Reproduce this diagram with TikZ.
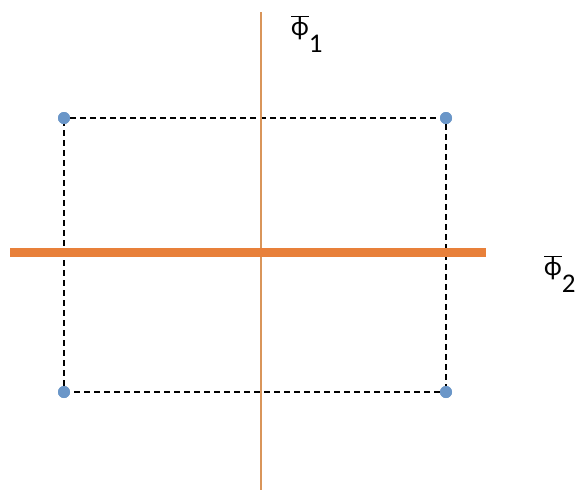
\documentclass[tikz,border=0pt]{standalone}
\usepackage{fontspec}
\setmainfont{Carlito}
\usepackage{xcolor}
\usetikzlibrary{positioning}
\definecolor{axisorange}{HTML}{E8803A}
\definecolor{thinorange}{HTML}{D9955A}
\definecolor{dotblue}{HTML}{6A96C8}

\newcommand{\barphi}{$\overline{\mbox{ϕ}}$}

\tikzset{
  corner/.style={circle, fill=dotblue, inner sep=0pt, minimum size=12pt},
  frame/.style={dashed, dash pattern=on 6pt off 4pt, line width=1.4pt, black},
  axislabel/.style={inner sep=0pt, font=\fontsize{27}{32}\selectfont}
}

\begin{document}
\begin{tikzpicture}[x=1pt, y=-1pt]
    \useasboundingbox (0,0) rectangle (582,491);
    % corner points
    \node[corner] (tl) at (64,118) {};
    \node[corner] (tr) at (446,118) {};
    \node[corner] (bl) at (64,392) {};
    \node[corner] (br) at (446,392) {};
    \draw[frame] (tl) -- (tr) -- (br) -- (bl) -- (tl);
    % axes
    \coordinate (vtop) at (261,12);
    \coordinate (vbot) at (261,490);
    \coordinate (hleft) at (10,252);
    \coordinate (hright) at (486,252);
    \draw[thinorange, line width=2pt] (vtop) -- (vbot);
    \draw[axisorange, line width=9pt] (hleft) -- (hright);
    \node[corner] at (tl) {};
    \node[corner] at (tr) {};
    \node[corner] at (bl) {};
    \node[corner] at (br) {};
    % labels
    \node[axislabel, anchor=west] (phione) at (291,34) {\barphi\raisebox{-17pt}{1}};
    \node[axislabel, anchor=west] (phitwo) at (544,274) {\barphi\raisebox{-17pt}{2}};
\end{tikzpicture}
\end{document}
